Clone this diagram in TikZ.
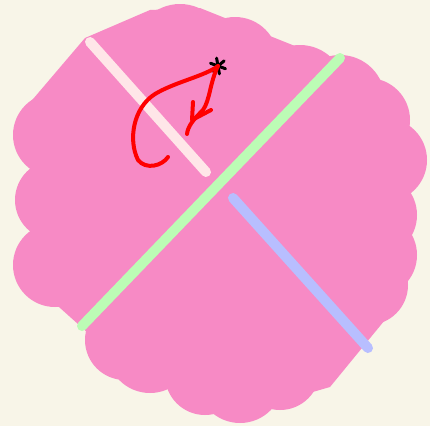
\documentclass[tikz,border=0pt]{standalone}
\usetikzlibrary{calc}

\begin{document}
\begin{tikzpicture}[x=1pt, y=-1pt, line cap=round, line join=round]
    \definecolor{paperColour}{HTML}{F8F5E8}
    \definecolor{blobColour}{HTML}{F78AC5}
    \definecolor{paleColour}{HTML}{FFE6E8}
    \definecolor{greenColour}{HTML}{BCFCB5}
    \definecolor{lilacColour}{HTML}{B8BEFF}
    \definecolor{inkColour}{HTML}{FF0000}

    \def\barWidth{10} % width of the three bars

    % Paper
    \fill[paperColour] (0,0) rectangle (430,426);
    \useasboundingbox (0,0) rectangle (430,426);

    % Draw the blob: a core polygon with bumps round its edge
    \fill[blobColour] (22,112) -- (85,38) -- (150,10) -- (200,8) -- (330,60) -- (390,110)
        -- (395,160) -- (395,290) -- (407,293) -- (330,387) -- (233,415) -- (88,333)
        -- (40,290) -- (38,140) -- cycle;
    \foreach \cx/\cy/\r in {180/50/46, 235/60/43, 300/90/45, 340/100/45, 368/120/42,
                            385/160/42, 375/215/42, 375/255/42, 368/285/40,
                            280/370/40, 240/380/43, 205/375/40, 150/350/43, 125/340/40,
                            55/265/42, 55/200/40, 55/135/42}
        \fill[blobColour] (\cx,\cy) circle (\r);

    % Define the ends of the bars
    \coordinate (P1) at (90,42);
    \coordinate (P2) at (206,172);
    \coordinate (G1) at (82,326);
    \coordinate (G2) at (340,58);
    \coordinate (L1) at (233,198);
    \coordinate (L2) at (368,348);

    % Draw the bars
    \draw[paleColour, line width=\barWidth] (P1) -- (P2);
    \draw[greenColour, line width=\barWidth] (G1) -- (G2);
    \draw[lilacColour, line width=\barWidth] (L1) -- (L2);

    % Mark the star
    \coordinate (S) at (218,66);
    \foreach \a in {80,20,-40}
        \draw[black, line width=3] ($(S)+(\a:8)$) -- ($(S)+(\a+180:8)$);

    % Draw the red loop and the arrow
    \draw[inkColour, line width=4] (S) .. controls (205,76) and (175,82) .. (155,94)
        .. controls (133,108) and (128,140) .. (138,160)
        .. controls (146,170) and (162,166) .. (168,157);
    \draw[inkColour, line width=4] (S) .. controls (210,82) and (210,100) .. (203,110)
        .. controls (193,120) and (188,126) .. (187,134);
    \draw[inkColour, line width=4] (193,102) -- (192,120) -- (211,110);

\end{tikzpicture}
\end{document}
